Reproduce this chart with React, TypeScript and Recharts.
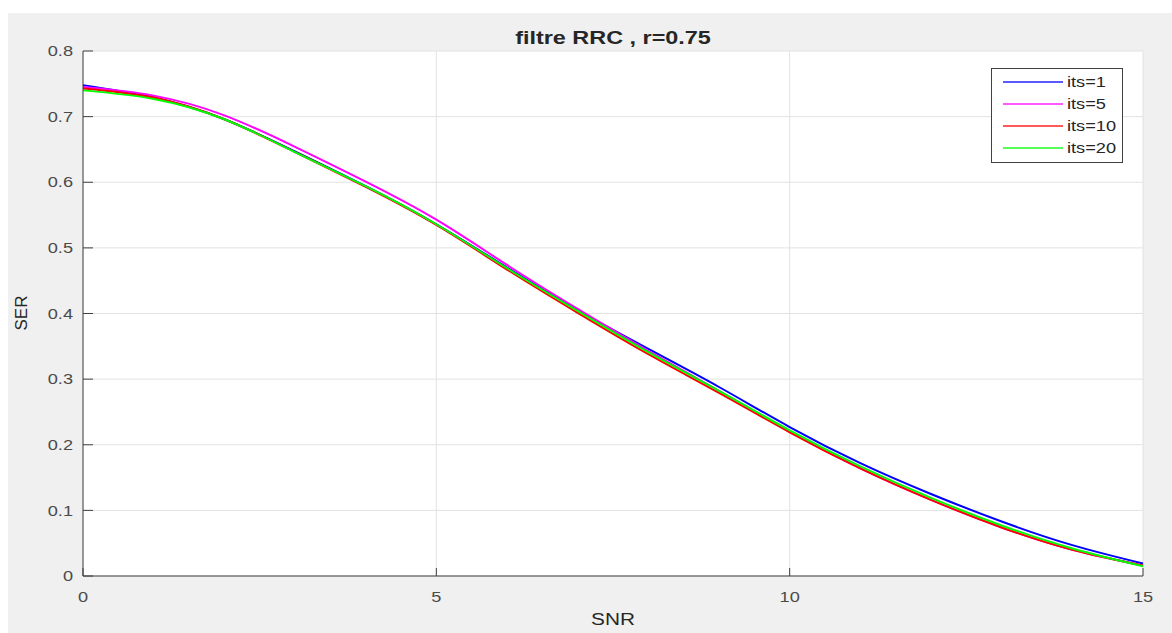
import React from "react";
import { CartesianGrid, Line, LineChart, XAxis, YAxis } from "recharts";

const snr = [0, 1, 2, 3, 4, 5, 6, 7, 8, 9, 10, 11, 12, 13, 14, 15];
const its1 = [0.748, 0.729, 0.696, 0.647, 0.594, 0.536, 0.47, 0.405, 0.346, 0.288, 0.227, 0.172, 0.125, 0.083, 0.047, 0.019];
const its5 = [0.745, 0.732, 0.702, 0.654, 0.601, 0.543, 0.474, 0.407, 0.343, 0.282, 0.22, 0.164, 0.116, 0.074, 0.04, 0.016];
const its10 = [0.743, 0.729, 0.696, 0.646, 0.593, 0.535, 0.467, 0.401, 0.338, 0.279, 0.219, 0.164, 0.116, 0.074, 0.04, 0.016];
const its20 = [0.74, 0.727, 0.696, 0.646, 0.594, 0.536, 0.469, 0.404, 0.341, 0.282, 0.222, 0.167, 0.119, 0.077, 0.042, 0.015];

const seriesKeys = ["its1", "its5", "its10", "its20"];
const seriesNames = ["its=1", "its=5", "its=10", "its=20"];
const seriesColors = ["#0000ff", "#ff00ff", "#ff0000", "#00ff00"];

const xTicks = [0, 5, 10, 15];
const yTicks = [0, 0.1, 0.2, 0.3, 0.4, 0.5, 0.6, 0.7, 0.8];

const data = snr.map((s, i) => ({ snr: s, its1: its1[i], its5: its5[i], its10: its10[i], its20: its20[i] }));

const FONT = "'Liberation Sans', Arial, Helvetica, sans-serif";
const SX = 1.3;

const YTick = (props: any) => {
  const { x, y, payload } = props;
  return (
    <text x={0} y={0} transform={`translate(${x},${y}) scale(${SX},1)`} textAnchor="end"
      dominantBaseline="central" fontFamily={FONT} fontSize={14} fill="#4a4a4a">
      {String(payload.value)}
    </text>
  );
};

const XTick = (props: any) => {
  const { x, y, payload } = props;
  return (
    <text x={0} y={0} transform={`translate(${x},${y}) scale(${SX},1)`} textAnchor="middle"
      dominantBaseline="central" fontFamily={FONT} fontSize={14} fill="#4a4a4a">
      {String(payload.value)}
    </text>
  );
};

const NoTick = () => <g />;

const label = (text: string, left: number, top: number, extra: React.CSSProperties = {}) => (
  <div style={{ position: "absolute", left, top, transform: `translate(-50%, -50%) scaleX(${SX})`, whiteSpace: "nowrap", fontFamily: FONT, color: "#262626", ...extra }}>
    {text}
  </div>
);

export default function App() {
  return (
    <div style={{ position: "absolute", left: 0, top: 0, width: 1172, height: 633, background: "#fff" }}>
      <div style={{ position: "absolute", left: 8, top: 13, width: 1164, height: 620, background: "#f0f0f0" }}>
        <LineChart width={1164} height={620} data={data} margin={{ top: 38, right: 29, left: 0, bottom: 0 }}>
          <CartesianGrid fill="#ffffff" stroke="#e2e2e2" horizontalValues={yTicks} verticalValues={xTicks} />
          <XAxis dataKey="snr" type="number" domain={[0, 15]} ticks={xTicks} height={57}
            stroke="#404040" tickSize={-8} tickMargin={29} tick={XTick} />
          <XAxis xAxisId="top" dataKey="snr" type="number" domain={[0, 15]} ticks={xTicks} orientation="top" height={0}
            stroke="#404040" tickSize={-8} tick={NoTick} />
          <YAxis type="number" domain={[0, 0.8]} ticks={yTicks} width={75}
            stroke="#404040" tickSize={-10} tickMargin={20} tick={YTick} />
          <YAxis yAxisId="right" type="number" domain={[0, 0.8]} ticks={yTicks} orientation="right" width={0}
            stroke="#404040" tickSize={-10} tick={NoTick} />
          {seriesKeys.map((k, i) => (
            <Line key={k} type="natural" dataKey={k} name={seriesNames[i]} stroke={seriesColors[i]}
              strokeWidth={2} dot={false} isAnimationActive={false} />
          ))}
        </LineChart>
        <div style={{ position: "absolute", left: 983, top: 55, width: 130, height: 91, background: "#fff", border: "1px solid #404040", paddingTop: 2, boxSizing: "content-box" }}>
          {seriesNames.map((n, i) => (
            <div key={n} style={{ height: 22, display: "flex", alignItems: "center" }}>
              <svg width={72} height={10}>
                <line x1={11} x2={71} y1={5} y2={5} stroke={seriesColors[i]} strokeWidth={2} strokeOpacity={0.65} />
              </svg>
              <span style={{ display: "inline-block", fontFamily: FONT, fontSize: 14, color: "#262626", transform: `scaleX(${SX})`, transformOrigin: "left center", marginLeft: 3 }}>
                {n}
              </span>
            </div>
          ))}
        </div>
        {label("filtre RRC , r=0.75", 605, 25, { fontSize: 18, fontWeight: "bold" })}
        {label("SNR", 605, 607, { fontSize: 16 })}
        <div style={{ position: "absolute", left: 14, top: 300, transform: "translate(-50%, -50%) rotate(-90deg)", whiteSpace: "nowrap", fontFamily: FONT, fontSize: 17, color: "#262626" }}>
          SER
        </div>
      </div>
    </div>
  );
}
